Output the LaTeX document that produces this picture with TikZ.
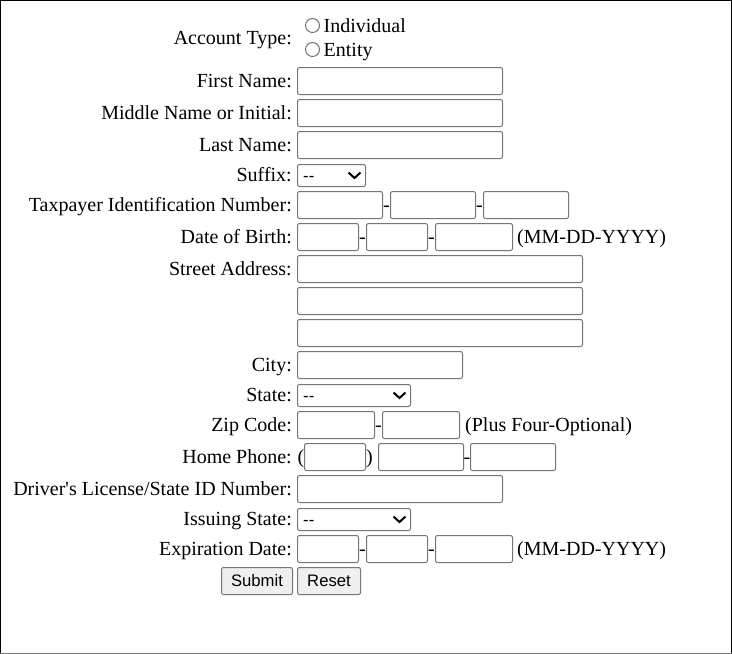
\documentclass[tikz,border=0pt]{standalone}
\usepackage{fontspec}
\newfontfamily\ser{Liberation Serif}
\newfontfamily\san{Liberation Sans}
\definecolor{ctl}{HTML}{767676}
\definecolor{btn}{HTML}{EFEFEF}
\tikzset{
  inp/.style={draw=ctl, line width=1pt, rounded corners=2pt, inner sep=0pt, outer sep=0pt, fill=white},
  sel/.style={inp},
  bt/.style={draw=ctl, line width=1pt, rounded corners=2pt, inner sep=0pt, outer sep=0pt, fill=btn, font=\san\fontsize{16.67}{19}\selectfont},
  lbl/.style={anchor=base east, inner sep=0pt, font=\ser\fontsize{20}{24}\selectfont},
  txt/.style={anchor=base west, inner sep=0pt, font=\ser\fontsize{20}{24}\selectfont},
  hyph/.style={anchor=base, inner sep=0pt, font=\ser\fontsize{20}{24}\selectfont},
  seltxt/.style={anchor=base west, inner sep=0pt, font=\san\fontsize{16.67}{19}\selectfont},
  radio/.style={circle, draw=ctl, line width=1pt, minimum size=14pt, inner sep=0pt},
  chev/.style={line width=2pt, black}
}
\newcommand\inbox[5]{\node[inp, minimum width={#4-#2}, minimum height={#5-#3}] (#1) at ({(#2+#4)/2},{(#3+#5)/2}) {};}
\newcommand\selbox[5]{%
  \node[sel, minimum width={#4-#2}, minimum height={#5-#3}] (#1) at ({(#2+#4)/2},{(#3+#5)/2}) {};
  \node[seltxt] (#1t) at ({#2+5.5},{#3+17}) {--};
  \draw[chev] ({#4-17},{(#3+#5)/2-3}) -- ({#4-11},{(#3+#5)/2+2.5}) -- ({#4-5},{(#3+#5)/2-3});}
\begin{document}
\begin{tikzpicture}[x=1pt,y=-1pt]
\useasboundingbox (0,0) rectangle (732,654);
\fill[white] (0,0) rectangle (732,654);
\draw[black, line width=1pt] (0.5,654) -- (0.5,0.5) -- (731.5,0.5) -- (731.5,654);
\draw[ctl, line width=1pt] (0,653.5) -- (732,653.5);

% Account type
\node[lbl] (lacc) at (292,44) {Account Type:};
\node[radio] (r1) at (312.5,25.5) {};
\node[txt] (ind) at (323.5,32) {Individual};
\node[radio] (r2) at (312.5,49.5) {};
\node[txt] (ent) at (323.5,56) {Entity};

% Names
\node[lbl] (lfn) at (292,87) {First Name:};
\inbox{fn}{297.5}{67.5}{502.5}{94.5}
\node[lbl] (lmn) at (292,119) {Middle Name or Initial:};
\inbox{mn}{297.5}{99.5}{502.5}{126.5}
\node[lbl] (lln) at (292,151) {Last Name:};
\inbox{ln}{297.5}{131.5}{502.5}{158.5}
\node[lbl] (lsf) at (292,181) {Suffix:};
\selbox{sf}{297.5}{164.5}{365.5}{186.5}

% TIN
\node[lbl] (ltin) at (292,211) {Taxpayer Identification Number:};
\inbox{tina}{297.5}{191.5}{382.5}{218.5}
\node[hyph] (tind1) at (386.5,211) {-};
\inbox{tinb}{390.5}{191.5}{475.5}{218.5}
\node[hyph] (tind2) at (479.5,211) {-};
\inbox{tinc}{483.5}{191.5}{568.5}{218.5}

% DOB
\node[lbl] (ldob) at (292,243) {Date of Birth:};
\inbox{doba}{297.5}{223.5}{358.5}{250.5}
\node[hyph] (dobd1) at (362.5,243) {-};
\inbox{dobb}{366.5}{223.5}{427.5}{250.5}
\node[hyph] (dobd2) at (431.5,243) {-};
\inbox{dobc}{435.5}{223.5}{512.5}{250.5}
\node[txt] (dobf) at (517,243) {(MM-DD-YYYY)};

% Street
\node[lbl] (lst) at (292,275) {Street Address:};
\inbox{st1}{297.5}{255.5}{582.5}{282.5}
\inbox{st2}{297.5}{287.5}{582.5}{314.5}
\inbox{st3}{297.5}{319.5}{582.5}{346.5}

% City, State
\node[lbl] (lcity) at (292,371) {City:};
\inbox{city}{297.5}{351.5}{462.5}{378.5}
\node[lbl] (lstate) at (292,401) {State:};
\selbox{state}{297.5}{384.5}{410.5}{406.5}

% Zip
\node[lbl] (lzip) at (292,431) {Zip Code:};
\inbox{zipa}{297.5}{411.5}{374.5}{438.5}
\node[hyph] (zipd) at (378.5,431) {-};
\inbox{zipb}{382.5}{411.5}{459.5}{438.5}
\node[txt] (zipf) at (465,431) {(Plus Four-Optional)};

% Home phone
\node[lbl] (lhp) at (292,463) {Home Phone:};
\node[txt] (hpo) at (297.5,463) {(};
\inbox{hpa}{304.5}{443.5}{365.5}{470.5}
\node[txt] (hpc) at (366,463) {)};
\inbox{hpb}{378.5}{443.5}{463.5}{470.5}
\node[hyph] (hpd) at (467,463) {-};
\inbox{hpc2}{470.5}{443.5}{555.5}{470.5}

% DL
\node[lbl] (ldl) at (292,495) {Driver's License/State ID Number:};
\inbox{dl}{297.5}{475.5}{502.5}{502.5}
\node[lbl] (lis) at (292,525) {Issuing State:};
\selbox{is}{297.5}{508.5}{410.5}{530.5}

% Expiration
\node[lbl] (lexp) at (292,555) {Expiration Date:};
\inbox{expa}{297.5}{535.5}{358.5}{562.5}
\node[hyph] (expd1) at (362.5,555) {-};
\inbox{expb}{366.5}{535.5}{427.5}{562.5}
\node[hyph] (expd2) at (431.5,555) {-};
\inbox{expc}{435.5}{535.5}{512.5}{562.5}
\node[txt] (expf) at (517,555) {(MM-DD-YYYY)};

% Buttons
\node[bt, minimum width=71pt, minimum height=27pt] (submit) at (257,581) {Submit};
\node[bt, minimum width=63pt, minimum height=27pt] (reset) at (329,581) {Reset};
\end{tikzpicture}
\end{document}
